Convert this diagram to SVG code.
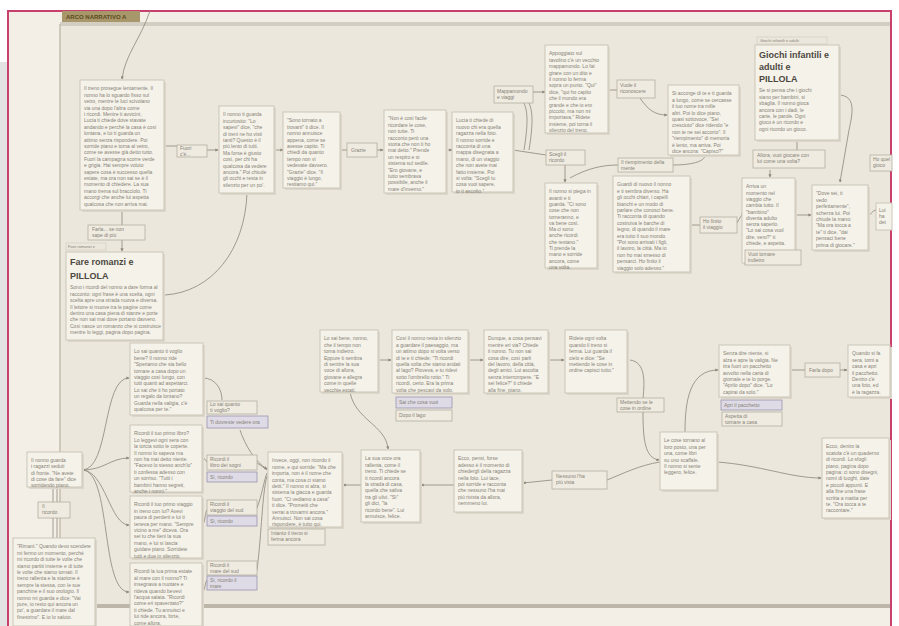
<svg xmlns="http://www.w3.org/2000/svg" width="899" height="626" viewBox="0 0 899 626">
<defs>
<style>
.n{fill:#f5f2ea;stroke:#cbc6b8;stroke-width:1}
.sh{fill:#dcd7ca}
.lb{fill:#efebe1;stroke:#b5b0a1;stroke-width:0.8}
.pl{fill:#dedbe7;stroke:#9a95b0;stroke-width:0.8}
.hd{fill:#ebe7dc;stroke:#cfcabc;stroke-width:0.6}
.t{font-family:"Liberation Sans",Arial,sans-serif;font-size:5px;fill:#878276}
.h{font-family:"Liberation Sans",Arial,sans-serif;font-size:9px;font-weight:bold;fill:#4c483f}
.c{fill:none;stroke:#8d8778;stroke-width:0.8}
</style>
<marker id="a" viewBox="0 0 6 6" refX="5" refY="3" markerWidth="4" markerHeight="4" orient="auto"><path d="M0,0 L6,3 L0,6 z" fill="#8d8778"/></marker>
</defs>
<rect width="899" height="626" fill="#ffffff"/>
<rect x="0" y="62" width="8" height="564" fill="#e3e3e3"/>
<rect x="8" y="11" width="883" height="615" fill="#f3efe7"/>
<rect x="60" y="24" width="831" height="583" fill="#ebe7dd"/>
<rect x="60" y="22" width="831" height="4" fill="#d3cec1"/>
<rect x="60" y="604" width="831" height="4" fill="#bdb7a9"/>
<line x1="60" y1="24" x2="60" y2="606" stroke="#c4beaf" stroke-width="1.5"/>
<path d="M8,626 L8,11 L891,11 L891,626" fill="none" stroke="#c8416e" stroke-width="2"/>
<g id="title"><rect x="62" y="11" width="78" height="11" fill="#a8976a"/><text x="66" y="19" font-family="Liberation Sans,Arial,sans-serif" font-size="6" font-weight="bold" fill="#5a4a20">ARCO NARRATIVO A</text></g>

<g id="connectors">
<path class="c" d="M150,11 C140,40 125,55 122,79" marker-end="url(#a)"/>
<path class="c" d="M164,146 L177,146"/>
<path class="c" d="M207,150 L218,150" marker-end="url(#a)"/>
<path class="c" d="M274,150 L283,150" marker-end="url(#a)"/>
<path class="c" d="M340,150 L347,150"/>
<path class="c" d="M377,150 L383,150" marker-end="url(#a)"/>
<path class="c" d="M446,150 L452,150" marker-end="url(#a)"/>
<path class="c" d="M513,150 L546,155"/>
<path class="c" d="M524,150 C528,125 528,112 524,103"/>
<path class="c" d="M529,150 C533,125 533,112 529,103"/>
<path class="c" d="M533,92 L545,92" marker-end="url(#a)"/>
<path class="c" d="M565,165 L565,182" marker-end="url(#a)"/>
<path class="c" d="M570,178 C588,168 603,165 618,165"/>
<path class="c" d="M608,90 L617,90"/>
<path class="c" d="M640,98 C648,110 655,115 667,115" marker-end="url(#a)"/>
<path class="c" d="M705,155 C705,162 690,165 673,165"/>
<path class="c" d="M690,225 L700,225"/>
<path class="c" d="M737,223 C740,218 741,215 744,213" marker-end="url(#a)"/>
<path class="c" d="M795,215 L811,215" marker-end="url(#a)"/>
<path class="c" d="M838,95 C856,95 853,112 849,130 L840,182" marker-end="url(#a)"/>
<path class="c" d="M797,140 L797,150"/>
<path class="c" d="M770,170 L770,177" marker-end="url(#a)"/>
<path class="c" d="M868,215 C872,215 872,210 876,210"/>
<path class="c" d="M122,210 L122,225"/>
<path class="c" d="M122,240 L122,251" marker-end="url(#a)"/>
<path class="c" d="M247,193 C245,250 212,292 165,295"/>
<path class="c" d="M82,470 C110,470 102,378 129,378" marker-end="url(#a)"/>
<path class="c" d="M82,470 C105,470 110,458 129,458" marker-end="url(#a)"/>
<path class="c" d="M82,470 C105,470 110,525 129,525" marker-end="url(#a)"/>
<path class="c" d="M82,470 C112,470 100,592 129,592" marker-end="url(#a)"/>
<path class="c" d="M53,487 L53,502 M57,487 L57,502 M53,518 L53,538 M57,518 L57,538"/>
<path class="c" d="M203,378 C216,378 222,390 222,400"/>
<path class="c" d="M240,430 C245,445 255,462 267,469" marker-end="url(#a)"/>
<path class="c" d="M202,458 C205,458 205,460 207,462"/>
<path class="c" d="M257,463 C262,466 264,468 267,470"/>
<path class="c" d="M202,525 C205,525 205,512 207,510"/>
<path class="c" d="M257,508 C262,495 264,480 267,473"/>
<path class="c" d="M202,592 C205,592 205,582 207,580"/>
<path class="c" d="M257,570 C262,530 262,495 267,476"/>
<path class="c" d="M350,392 C355,420 386,425 388,449" marker-end="url(#a)"/>
<path class="c" d="M378,360 L391,360" marker-end="url(#a)"/>
<path class="c" d="M468,360 L483,360" marker-end="url(#a)"/>
<path class="c" d="M548,360 L564,360" marker-end="url(#a)"/>
<path class="c" d="M361,485 L343,485" marker-end="url(#a)"/>
<path class="c" d="M454,485 L421,485" marker-end="url(#a)"/>
<path class="c" d="M552,480 L523,483" marker-end="url(#a)"/>
<path class="c" d="M660,462 C640,465 622,474 607,480"/>
<path class="c" d="M630,360 C645,362 645,380 643,398"/>
<path class="c" d="M643,412 C643,440 645,458 659,460" marker-end="url(#a)"/>
<path class="c" d="M685,432 C685,400 690,370 718,370" marker-end="url(#a)"/>
<path class="c" d="M717,462 C760,465 790,478 821,478" marker-end="url(#a)"/>
<path class="c" d="M790,370 L805,370"/>
<path class="c" d="M840,370 L847,370" marker-end="url(#a)"/>
</g>

<g id="nA"><rect class="sh" x="82" y="82" width="84" height="130"/><rect class="n" x="80" y="80" width="84" height="130"/>
<text class="t" x="84" y="84"><tspan x="84" dy="6.4">Il treno prosegue lentamente. Il</tspan><tspan x="84" dy="6.4">nonno ha lo sguardo fisso sul</tspan><tspan x="84" dy="6.4">vetro, mentre le luci scivolano</tspan><tspan x="84" dy="6.4">via una dopo l'altra come</tspan><tspan x="84" dy="6.4">i ricordi. Mentre ti avvicini,</tspan><tspan x="84" dy="6.4">Lucia ti chiede dove stavate</tspan><tspan x="84" dy="6.4">andando e perché la casa è così</tspan><tspan x="84" dy="6.4">lontana, e lui ti guarda un</tspan><tspan x="84" dy="6.4">attimo senza rispondere. Poi</tspan><tspan x="84" dy="6.4">sorride piano e torna al vetro,</tspan><tspan x="84" dy="6.4">come se avesse già detto tutto.</tspan><tspan x="84" dy="6.4">Fuori la campagna scorre verde</tspan><tspan x="84" dy="6.4">e grigia. Hai sempre voluto</tspan><tspan x="84" dy="6.4">sapere cosa è successo quella</tspan><tspan x="84" dy="6.4">estate, ma ora non sai se è il</tspan><tspan x="84" dy="6.4">momento di chiedere. La sua</tspan><tspan x="84" dy="6.4">mano trema sul bracciolo. Ti</tspan><tspan x="84" dy="6.4">accorgi che anche lui aspetta</tspan><tspan x="84" dy="6.4">qualcosa che non arriva mai.</tspan></text></g>

<g id="lFuori"><rect class="lb" x="177" y="145" width="30" height="12"/><text class="t" x="180" y="150">Fuori</text><text class="t" x="180" y="155.5">c'è...</text></g>

<g id="nB"><rect class="sh" x="221" y="108" width="55" height="87"/><rect class="n" x="219" y="106" width="55" height="87"/>
<text class="t" x="223" y="110"><tspan x="223" dy="6.4">Il nonno ti guarda</tspan><tspan x="223" dy="6.4">incuriosito: "Lo</tspan><tspan x="223" dy="6.4">sapevi" dice, "che</tspan><tspan x="223" dy="6.4">di treni ne ho visti</tspan><tspan x="223" dy="6.4">tanti? Questo è il</tspan><tspan x="223" dy="6.4">più lento di tutti.</tspan><tspan x="223" dy="6.4">Ma forse è giusto</tspan><tspan x="223" dy="6.4">così, per chi ha</tspan><tspan x="223" dy="6.4">qualcosa da vedere</tspan><tspan x="223" dy="6.4">ancora." Poi chiude</tspan><tspan x="223" dy="6.4">gli occhi e resta in</tspan><tspan x="223" dy="6.4">silenzio per un po'.</tspan></text></g>

<g id="nC"><rect class="sh" x="285" y="114" width="57" height="76"/><rect class="n" x="283" y="112" width="57" height="76"/>
<text class="t" x="287" y="116"><tspan x="287" dy="6.4">"Sono tornato a</tspan><tspan x="287" dy="6.4">trovarti" ti dice. Il</tspan><tspan x="287" dy="6.4">nonno annuisce</tspan><tspan x="287" dy="6.4">appena, come se</tspan><tspan x="287" dy="6.4">avesse capito. Ti</tspan><tspan x="287" dy="6.4">chiedi da quanto</tspan><tspan x="287" dy="6.4">tempo non vi</tspan><tspan x="287" dy="6.4">vedevate davvero.</tspan><tspan x="287" dy="6.4">"Grazie" dice. "Il</tspan><tspan x="287" dy="6.4">viaggio è lungo,</tspan><tspan x="287" dy="6.4">restiamo qui."</tspan></text></g>

<g id="lGrazie"><rect class="lb" x="347" y="143" width="30" height="14"/><text class="t" x="351" y="151.5">Grazie</text></g>

<g id="nD"><rect class="sh" x="386" y="112" width="62" height="83"/><rect class="n" x="384" y="110" width="62" height="83"/>
<text class="t" x="388" y="114"><tspan x="388" dy="6.4">"Non è così facile</tspan><tspan x="388" dy="6.4">ricordare le cose,</tspan><tspan x="388" dy="6.4">non tutte. Ti</tspan><tspan x="388" dy="6.4">racconto però una</tspan><tspan x="388" dy="6.4">storia che non ti ho</tspan><tspan x="388" dy="6.4">mai detto." Prende</tspan><tspan x="388" dy="6.4">un respiro e si</tspan><tspan x="388" dy="6.4">sistema sul sedile.</tspan><tspan x="388" dy="6.4">"Ero giovane, e</tspan><tspan x="388" dy="6.4">tutto sembrava</tspan><tspan x="388" dy="6.4">possibile, anche il</tspan><tspan x="388" dy="6.4">mare d'inverno."</tspan></text></g>

<g id="nE"><rect class="sh" x="454" y="114" width="61" height="80"/><rect class="n" x="452" y="112" width="61" height="80"/>
<text class="t" x="456" y="116"><tspan x="456" dy="6.4">Lucia ti chiede di</tspan><tspan x="456" dy="6.4">nuovo chi era quella</tspan><tspan x="456" dy="6.4">ragazza nella foto.</tspan><tspan x="456" dy="6.4">Il nonno sorride e</tspan><tspan x="456" dy="6.4">racconta di una</tspan><tspan x="456" dy="6.4">mappa disegnata a</tspan><tspan x="456" dy="6.4">mano, di un viaggio</tspan><tspan x="456" dy="6.4">che non avete mai</tspan><tspan x="456" dy="6.4">fatto insieme. Poi</tspan><tspan x="456" dy="6.4">si volta: "Scegli tu</tspan><tspan x="456" dy="6.4">cosa vuoi sapere,</tspan><tspan x="456" dy="6.4">io ti ascolto."</tspan></text></g>

<g id="lMappa"><rect class="lb" x="494" y="86" width="39" height="17"/><text class="t" x="497" y="93">Mappamondo</text><text class="t" x="497" y="99">e viaggi</text></g>

<g id="nF"><rect class="sh" x="547" y="47" width="63" height="88"/><rect class="n" x="545" y="45" width="63" height="88"/>
<text class="t" x="549" y="49"><tspan x="549" dy="6.4">Appoggiato sul</tspan><tspan x="549" dy="6.4">tavolino c'è un vecchio</tspan><tspan x="549" dy="6.4">mappamondo. Lo fai</tspan><tspan x="549" dy="6.4">girare con un dito e</tspan><tspan x="549" dy="6.4">il nonno lo ferma</tspan><tspan x="549" dy="6.4">sopra un punto. "Qui"</tspan><tspan x="549" dy="6.4">dice, "qui ho capito</tspan><tspan x="549" dy="6.4">che il mondo era</tspan><tspan x="549" dy="6.4">grande e che io ero</tspan><tspan x="549" dy="6.4">piccolo, ma non mi</tspan><tspan x="549" dy="6.4">importava." Ridete</tspan><tspan x="549" dy="6.4">insieme, poi torna il</tspan><tspan x="549" dy="6.4">silenzio del treno.</tspan></text></g>

<g id="lScegli"><rect class="lb" x="546" y="150" width="39" height="15"/><text class="t" x="549" y="156">Scegli il</text><text class="t" x="549" y="162">ricordo</text></g>

<g id="nG"><rect class="sh" x="547" y="185" width="52" height="85"/><rect class="n" x="545" y="183" width="52" height="85"/>
<text class="t" x="549" y="187"><tspan x="549" dy="6.3">Il nonno si piega in</tspan><tspan x="549" dy="6.3">avanti e ti</tspan><tspan x="549" dy="6.3">guarda. "Ci sono</tspan><tspan x="549" dy="6.3">cose che non</tspan><tspan x="549" dy="6.3">torneranno, e</tspan><tspan x="549" dy="6.3">va bene così.</tspan><tspan x="549" dy="6.3">Ma ci sono</tspan><tspan x="549" dy="6.3">anche ricordi</tspan><tspan x="549" dy="6.3">che restano."</tspan><tspan x="549" dy="6.3">Ti prende la</tspan><tspan x="549" dy="6.3">mano e sorride</tspan><tspan x="549" dy="6.3">ancora, come</tspan><tspan x="549" dy="6.3">una volta.</tspan></text></g>

<g id="lVuole"><rect class="lb" x="617" y="80" width="38" height="18"/><text class="t" x="620" y="87">Vuole il</text><text class="t" x="620" y="93">riconoscere</text></g>

<g id="nH"><rect class="sh" x="670" y="87" width="71" height="70"/><rect class="n" x="668" y="85" width="71" height="70"/>
<text class="t" x="672" y="89"><tspan x="672" dy="6.4">Si accorge di te e ti guarda</tspan><tspan x="672" dy="6.4">a lungo, come se cercasse</tspan><tspan x="672" dy="6.4">il tuo nome tra mille</tspan><tspan x="672" dy="6.4">altri. Poi lo dice piano,</tspan><tspan x="672" dy="6.4">quasi sottovoce. "Sei</tspan><tspan x="672" dy="6.4">cresciuto" dice ridendo "e</tspan><tspan x="672" dy="6.4">non te ne sei accorto". Il</tspan><tspan x="672" dy="6.4">"riempimento" di memoria</tspan><tspan x="672" dy="6.4">è lento, ma arriva. Poi</tspan><tspan x="672" dy="6.4">dice ancora: "Capisci?"</tspan></text></g>

<g id="lRiemp"><rect class="lb" x="618" y="158" width="55" height="14"/><text class="t" x="621" y="164">Il riempimento della</text><text class="t" x="621" y="170">mente</text></g>

<g id="nI"><rect class="sh" x="615" y="178" width="77" height="96"/><rect class="n" x="613" y="176" width="77" height="96"/>
<text class="t" x="617" y="180"><tspan x="617" dy="6.4">Guardi di nuovo il nonno</tspan><tspan x="617" dy="6.4">e ti sembra diverso. Ha</tspan><tspan x="617" dy="6.4">gli occhi chiari, i capelli</tspan><tspan x="617" dy="6.4">bianchi e un modo di</tspan><tspan x="617" dy="6.4">parlare che conosci bene.</tspan><tspan x="617" dy="6.4">Ti racconta di quando</tspan><tspan x="617" dy="6.4">costruiva le barche di</tspan><tspan x="617" dy="6.4">legno, di quando il mare</tspan><tspan x="617" dy="6.4">era tutto il suo mondo.</tspan><tspan x="617" dy="6.4">"Poi sono arrivati i figli,</tspan><tspan x="617" dy="6.4">il lavoro, la città. Ma io</tspan><tspan x="617" dy="6.4">non ho mai smesso di</tspan><tspan x="617" dy="6.4">pensarci. Ho finito il</tspan><tspan x="617" dy="6.4">viaggio solo adesso."</tspan></text></g>

<g id="lFinito"><rect class="lb" x="700" y="217" width="37" height="16"/><text class="t" x="703" y="223">Ho finito</text><text class="t" x="703" y="229">il viaggio</text></g>

<g id="nJ"><rect class="sh" x="744" y="180" width="53" height="85"/><rect class="n" x="742" y="178" width="53" height="85"/>
<text class="t" x="746" y="182"><tspan x="746" dy="6.3">Arriva un</tspan><tspan x="746" dy="6.3">momento nel</tspan><tspan x="746" dy="6.3">viaggio che</tspan><tspan x="746" dy="6.3">cambia tutto. Il</tspan><tspan x="746" dy="6.3">"bambino"</tspan><tspan x="746" dy="6.3">diventa adulto</tspan><tspan x="746" dy="6.3">senza saperlo.</tspan><tspan x="746" dy="6.3">"Lo sai cosa vuol</tspan><tspan x="746" dy="6.3">dire, vero?" ti</tspan><tspan x="746" dy="6.3">chiede, e aspetta.</tspan></text>
<rect class="lb" x="745" y="250" width="56" height="15"/><text class="t" x="748" y="256">Vuoi tornare</text><text class="t" x="748" y="262">indietro</text></g>

<g id="nGiochi"><rect class="hd" x="757" y="37" width="70" height="7"/><text class="t" x="760" y="42" style="font-size:4px">Giochi infantili e adulti</text>
<rect class="sh" x="757" y="47" width="84" height="95"/><rect class="n" x="755" y="45" width="84" height="95"/>
<text class="h" x="759" y="58">Giochi infantili e</text><text class="h" x="759" y="70">adulti e</text><text class="h" x="759" y="82">PILLOLA</text>
<text class="t" x="759" y="86"><tspan x="759" dy="6.4">Se si pensa che i giochi</tspan><tspan x="759" dy="6.4">siano per bambini, si</tspan><tspan x="759" dy="6.4">sbaglia. Il nonno gioca</tspan><tspan x="759" dy="6.4">ancora con i dadi, le</tspan><tspan x="759" dy="6.4">carte, le parole. Ogni</tspan><tspan x="759" dy="6.4">gioco è un ricordo e</tspan><tspan x="759" dy="6.4">ogni ricordo un gioco.</tspan></text></g>

<g id="lAllora"><rect class="lb" x="753" y="150" width="72" height="18"/><text class="t" x="757" y="157">Allora, vuoi giocare con</text><text class="t" x="757" y="163">lui come una volta?</text></g>

<g id="nK"><rect class="sh" x="814" y="187" width="56" height="65"/><rect class="n" x="812" y="185" width="56" height="65"/>
<text class="t" x="816" y="189"><tspan x="816" dy="6.4">"Dove sei, ti</tspan><tspan x="816" dy="6.4">vedo</tspan><tspan x="816" dy="6.4">perfettamente",</tspan><tspan x="816" dy="6.4">scherza lui. Poi</tspan><tspan x="816" dy="6.4">chiude la mano:</tspan><tspan x="816" dy="6.4">"Ma ora tocca a</tspan><tspan x="816" dy="6.4">te" ti dice, "dai</tspan><tspan x="816" dy="6.4">pensaci bene</tspan><tspan x="816" dy="6.4">prima di giocare."</tspan></text></g>

<g id="lEdge1"><rect class="lb" x="870" y="155" width="22" height="16"/><text class="t" x="873" y="161">Ho quel</text><text class="t" x="873" y="167">gioco</text></g>
<g id="nEdge2"><rect class="n" x="876" y="203" width="16" height="27"/><text class="t" x="879" y="212">Lui</text><text class="t" x="879" y="218">ha</text><text class="t" x="879" y="224">det</text></g>

<g id="lFarla"><rect class="lb" x="88" y="225" width="57" height="15"/><text class="t" x="92" y="231">Farla... se non</text><text class="t" x="92" y="237">sape di più</text></g>

<g id="nFare"><rect class="hd" x="66" y="243" width="40" height="7"/><text class="t" x="68" y="248" style="font-size:4px">Fare romanzi e</text>
<rect class="sh" x="68" y="254" width="97" height="88"/><rect class="n" x="66" y="252" width="97" height="88"/>
<text class="h" x="70" y="265">Fare romanzi e</text><text class="h" x="70" y="279">PILLOLA</text>
<text class="t" x="70" y="283"><tspan x="70" dy="6.4">Sono i ricordi del nonno a dare forma al</tspan><tspan x="70" dy="6.4">racconto: ogni frase è una scelta, ogni</tspan><tspan x="70" dy="6.4">scelta apre una strada nuova e diversa.</tspan><tspan x="70" dy="6.4">Il lettore si muove tra le pagine come</tspan><tspan x="70" dy="6.4">dentro una casa piena di stanze e porte</tspan><tspan x="70" dy="6.4">che non sai mai dove portano davvero.</tspan><tspan x="70" dy="6.4">Così nasce un romanzo che si costruisce</tspan><tspan x="70" dy="6.4">mentre lo leggi, pagina dopo pagina.</tspan></text></g>

<g id="nL"><rect class="sh" x="132" y="345" width="73" height="72"/><rect class="n" x="130" y="343" width="73" height="72"/>
<text class="t" x="134" y="347"><tspan x="134" dy="6.4">Lo sai quanto ti voglio</tspan><tspan x="134" dy="6.4">bene? Il nonno ride</tspan><tspan x="134" dy="6.4">"Speriamo che sia bello</tspan><tspan x="134" dy="6.4">tornare a casa dopo un</tspan><tspan x="134" dy="6.4">viaggio così lungo, con</tspan><tspan x="134" dy="6.4">tutti quanti ad aspettarci.</tspan><tspan x="134" dy="6.4">Lo sai che ti ho portato</tspan><tspan x="134" dy="6.4">un regalo da lontano?</tspan><tspan x="134" dy="6.4">Guarda nella valigia, c'è</tspan><tspan x="134" dy="6.4">qualcosa per te."</tspan></text></g>

<g id="nM"><rect class="sh" x="132" y="427" width="72" height="67"/><rect class="n" x="130" y="425" width="72" height="67"/>
<text class="t" x="134" y="429"><tspan x="134" dy="6.4">Ricordi il tuo primo libro?</tspan><tspan x="134" dy="6.4">Lo leggevi ogni sera con</tspan><tspan x="134" dy="6.4">la torcia sotto le coperte.</tspan><tspan x="134" dy="6.4">Il nonno lo sapeva ma</tspan><tspan x="134" dy="6.4">non ha mai detto niente.</tspan><tspan x="134" dy="6.4">"Facevo lo stesso anch'io"</tspan><tspan x="134" dy="6.4">ti confessa adesso con</tspan><tspan x="134" dy="6.4">un sorriso. "Tutti i</tspan><tspan x="134" dy="6.4">bambini hanno segreti,</tspan><tspan x="134" dy="6.4">anche i nonni."</tspan></text></g>

<g id="nN"><rect class="sh" x="132" y="498" width="72" height="62"/><rect class="n" x="130" y="496" width="72" height="62"/>
<text class="t" x="134" y="500"><tspan x="134" dy="6.4">Ricordi il tuo primo viaggio</tspan><tspan x="134" dy="6.4">in treno con lui? Avevi</tspan><tspan x="134" dy="6.4">paura di perderti e lui ti</tspan><tspan x="134" dy="6.4">teneva per mano. "Sempre</tspan><tspan x="134" dy="6.4">vicino a me" diceva. Ora</tspan><tspan x="134" dy="6.4">sei tu che tieni la sua</tspan><tspan x="134" dy="6.4">mano, e lui si lascia</tspan><tspan x="134" dy="6.4">guidare piano. Sorridete</tspan><tspan x="134" dy="6.4">tutti e due in silenzio.</tspan></text></g>

<g id="nO"><rect class="sh" x="132" y="565" width="72" height="63"/><rect class="n" x="130" y="563" width="72" height="63"/>
<text class="t" x="134" y="567"><tspan x="134" dy="6.4">Ricordi la tua prima estate</tspan><tspan x="134" dy="6.4">al mare con il nonno? Ti</tspan><tspan x="134" dy="6.4">insegnava a nuotare e</tspan><tspan x="134" dy="6.4">rideva quando bevevi</tspan><tspan x="134" dy="6.4">l'acqua salata. "Ricordi</tspan><tspan x="134" dy="6.4">come eri spaventato?"</tspan><tspan x="134" dy="6.4">ti chiede. Tu annuisci e</tspan><tspan x="134" dy="6.4">lui ride ancora, forte,</tspan><tspan x="134" dy="6.4">come allora.</tspan></text></g>

<g id="nP"><rect class="sh" x="29" y="454" width="55" height="35"/><rect class="n" x="27" y="452" width="55" height="35"/>
<text class="t" x="31" y="456"><tspan x="31" dy="6.2">Il nonno guarda</tspan><tspan x="31" dy="6.2">i ragazzi seduti</tspan><tspan x="31" dy="6.2">di fronte. "Ne avete</tspan><tspan x="31" dy="6.2">di cose da fare" dice</tspan><tspan x="31" dy="6.2">sorridendo piano.</tspan></text></g>

<g id="lIl"><rect class="lb" x="38" y="502" width="32" height="16"/><text class="t" x="42" y="508">Il</text><text class="t" x="42" y="514">ricordo</text></g>

<g id="nQ"><rect class="sh" x="15" y="540" width="82" height="86"/><rect class="n" x="13" y="538" width="82" height="88"/>
<text class="t" x="17" y="542"><tspan x="17" dy="6.4">"Rimani." Quando devo scendere</tspan><tspan x="17" dy="6.4">mi fermo un momento, perché</tspan><tspan x="17" dy="6.4">mi ricordo di tutte le volte che</tspan><tspan x="17" dy="6.4">siamo partiti insieme e di tutte</tspan><tspan x="17" dy="6.4">le volte che siamo tornati. Il</tspan><tspan x="17" dy="6.4">treno rallenta e la stazione è</tspan><tspan x="17" dy="6.4">sempre la stessa, con le sue</tspan><tspan x="17" dy="6.4">panchine e il suo orologio. Il</tspan><tspan x="17" dy="6.4">nonno mi guarda e dice: "Vai</tspan><tspan x="17" dy="6.4">pure, io resto qui ancora un</tspan><tspan x="17" dy="6.4">po', a guardare il mare dal</tspan><tspan x="17" dy="6.4">finestrino". E io lo saluto.</tspan></text></g>

<g id="lL1"><rect class="lb" x="207" y="401" width="50" height="13"/><text class="t" x="210" y="406">Lo sai quanto</text><text class="t" x="210" y="412">ti voglio?</text></g>
<g id="lL2"><rect class="pl" x="207" y="416" width="61" height="12"/><text class="t" x="210" y="424">Ti dovreste vedere ora</text></g>
<g id="lM1"><rect class="lb" x="207" y="455" width="50" height="15"/><text class="t" x="210" y="461">Ricordi il</text><text class="t" x="210" y="467">libro dei sogni</text></g>
<g id="lM2"><rect class="pl" x="207" y="472" width="50" height="10"/><text class="t" x="210" y="479">Sì, ricordo</text></g>
<g id="lN1"><rect class="lb" x="207" y="500" width="50" height="15"/><text class="t" x="210" y="506">Ricordi il</text><text class="t" x="210" y="512">viaggio del sud</text></g>
<g id="lN2"><rect class="pl" x="207" y="516" width="50" height="10"/><text class="t" x="210" y="523">Sì, ricordo</text></g>
<g id="lO1"><rect class="lb" x="207" y="561" width="50" height="14"/><text class="t" x="210" y="567">Ricordi il</text><text class="t" x="210" y="573">mare del sud</text></g>
<g id="lO2"><rect class="pl" x="207" y="576" width="50" height="14"/><text class="t" x="210" y="582">Sì, ricordo il</text><text class="t" x="210" y="588">mare</text></g>

<g id="nR"><rect class="sh" x="270" y="454" width="74" height="75"/><rect class="n" x="268" y="452" width="74" height="75"/>
<text class="t" x="272" y="456"><tspan x="272" dy="6.4">Invece, oggi, non ricordo il</tspan><tspan x="272" dy="6.4">nome, e qui sorride: "Ma che</tspan><tspan x="272" dy="6.4">importa, non è il nome che</tspan><tspan x="272" dy="6.4">conta, ma cosa ci siamo</tspan><tspan x="272" dy="6.4">detti." Il nonno si alza, si</tspan><tspan x="272" dy="6.4">sistema la giacca e guarda</tspan><tspan x="272" dy="6.4">fuori. "Ci vediamo a casa"</tspan><tspan x="272" dy="6.4">ti dice. "Prometti che</tspan><tspan x="272" dy="6.4">verrai a trovarmi ancora."</tspan><tspan x="272" dy="6.4">Annuisci. Non sai cosa</tspan><tspan x="272" dy="6.4">rispondere, è tutto qui.</tspan></text>
<rect class="lb" x="268" y="529" width="57" height="16"/><text class="t" x="271" y="535">Intanto il treno si</text><text class="t" x="271" y="541">ferma ancora</text></g>

<g id="nS"><rect class="sh" x="322" y="332" width="58" height="62"/><rect class="n" x="320" y="330" width="58" height="62"/>
<text class="t" x="324" y="334"><tspan x="324" dy="6.4">Lo sai bene, nonno,</tspan><tspan x="324" dy="6.4">che il tempo non</tspan><tspan x="324" dy="6.4">torna indietro.</tspan><tspan x="324" dy="6.4">Eppure ti sembra</tspan><tspan x="324" dy="6.4">di sentire la sua</tspan><tspan x="324" dy="6.4">voce di allora,</tspan><tspan x="324" dy="6.4">giovane e allegra</tspan><tspan x="324" dy="6.4">come in quelle</tspan><tspan x="324" dy="6.4">vecchie estati.</tspan></text></g>

<g id="nT"><rect class="sh" x="394" y="332" width="76" height="63"/><rect class="n" x="392" y="330" width="76" height="63"/>
<text class="t" x="396" y="334"><tspan x="396" dy="6.4">Così il nonno resta in silenzio</tspan><tspan x="396" dy="6.4">a guardare il paesaggio, ma</tspan><tspan x="396" dy="6.4">un attimo dopo si volta verso</tspan><tspan x="396" dy="6.4">di te e ti chiede: "Ti ricordi</tspan><tspan x="396" dy="6.4">quella volta che siamo andati</tspan><tspan x="396" dy="6.4">al lago? Pioveva, e tu ridevi</tspan><tspan x="396" dy="6.4">sotto l'ombrello rotto." Ti</tspan><tspan x="396" dy="6.4">ricordi, certo. Era la prima</tspan><tspan x="396" dy="6.4">volta che pescavi da solo.</tspan></text>
<rect class="pl" x="396" y="397" width="56" height="11"/><text class="t" x="399" y="404">Sai che cosa vuoi</text>
<rect class="lb" x="396" y="410" width="56" height="11"/><text class="t" x="399" y="417">Dopo il lago</text></g>

<g id="nU"><rect class="sh" x="486" y="332" width="64" height="63"/><rect class="n" x="484" y="330" width="64" height="63"/>
<text class="t" x="488" y="334"><tspan x="488" dy="6.4">Dunque, a cosa pensavi</tspan><tspan x="488" dy="6.4">mentre eri via? Chiede</tspan><tspan x="488" dy="6.4">il nonno. Tu non sai</tspan><tspan x="488" dy="6.4">cosa dire, così parli</tspan><tspan x="488" dy="6.4">del lavoro, della città,</tspan><tspan x="488" dy="6.4">degli amici. Lui ascolta</tspan><tspan x="488" dy="6.4">senza interrompere. "E</tspan><tspan x="488" dy="6.4">sei felice?" ti chiede</tspan><tspan x="488" dy="6.4">alla fine, piano.</tspan></text></g>

<g id="nV"><rect class="sh" x="567" y="332" width="62" height="63"/><rect class="n" x="565" y="330" width="62" height="63"/>
<text class="t" x="569" y="334"><tspan x="569" dy="6.4">Ridete ogni volta</tspan><tspan x="569" dy="6.4">quando il treno si</tspan><tspan x="569" dy="6.4">ferma. Lui guarda il</tspan><tspan x="569" dy="6.4">cielo e dice: "Se</tspan><tspan x="569" dy="6.4">mettendo le cose in</tspan><tspan x="569" dy="6.4">ordine capisci tutto."</tspan></text></g>

<g id="nW"><rect class="sh" x="363" y="452" width="59" height="72"/><rect class="n" x="361" y="450" width="59" height="72"/>
<text class="t" x="365" y="454"><tspan x="365" dy="6.4">La sua voce ora</tspan><tspan x="365" dy="6.4">rallenta, come il</tspan><tspan x="365" dy="6.4">treno. Ti chiede se</tspan><tspan x="365" dy="6.4">ti ricordi ancora</tspan><tspan x="365" dy="6.4">la strada di casa,</tspan><tspan x="365" dy="6.4">quella che saliva</tspan><tspan x="365" dy="6.4">tra gli ulivi. "Sì"</tspan><tspan x="365" dy="6.4">gli dici, "la</tspan><tspan x="365" dy="6.4">ricordo bene". Lui</tspan><tspan x="365" dy="6.4">annuisce, felice.</tspan></text></g>

<g id="nX"><rect class="sh" x="456" y="452" width="68" height="62"/><rect class="n" x="454" y="450" width="68" height="62"/>
<text class="t" x="458" y="454"><tspan x="458" dy="6.4">Ecco, pensi, forse</tspan><tspan x="458" dy="6.4">adesso è il momento di</tspan><tspan x="458" dy="6.4">chiedergli della ragazza</tspan><tspan x="458" dy="6.4">nella foto. Lui tace,</tspan><tspan x="458" dy="6.4">poi sorride e racconta</tspan><tspan x="458" dy="6.4">che nessuno l'ha mai</tspan><tspan x="458" dy="6.4">più rivista da allora,</tspan><tspan x="458" dy="6.4">nemmeno lui.</tspan></text></g>

<g id="lNessuno"><rect class="lb" x="552" y="471" width="55" height="18"/><text class="t" x="556" y="478">Nessuno l'ha</text><text class="t" x="556" y="484">più vista</text></g>

<g id="lMettendo"><rect class="lb" x="617" y="398" width="47" height="14"/><text class="t" x="620" y="404">Mettendo se le</text><text class="t" x="620" y="410">cose in ordine</text></g>

<g id="nY"><rect class="sh" x="662" y="434" width="57" height="58"/><rect class="n" x="660" y="432" width="57" height="58"/>
<text class="t" x="664" y="436"><tspan x="664" dy="6.4">Le cose tornano al</tspan><tspan x="664" dy="6.4">loro posto, una per</tspan><tspan x="664" dy="6.4">una, come libri</tspan><tspan x="664" dy="6.4">su uno scaffale.</tspan><tspan x="664" dy="6.4">Il nonno si sente</tspan><tspan x="664" dy="6.4">leggero, felice.</tspan></text></g>

<g id="nZ"><rect class="sh" x="721" y="347" width="71" height="52"/><rect class="n" x="719" y="345" width="71" height="52"/>
<text class="t" x="723" y="349"><tspan x="723" dy="6.4">Senza dire niente, si</tspan><tspan x="723" dy="6.4">alza e apre la valigia. Ne</tspan><tspan x="723" dy="6.4">tira fuori un pacchetto</tspan><tspan x="723" dy="6.4">avvolto nella carta di</tspan><tspan x="723" dy="6.4">giornale e te lo porge.</tspan><tspan x="723" dy="6.4">"Aprilo dopo" dice. "Lo</tspan><tspan x="723" dy="6.4">capirai da solo."</tspan></text>
<rect class="pl" x="721" y="400" width="61" height="10"/><text class="t" x="724" y="407">Apri il pacchetto</text>
<rect class="lb" x="722" y="412" width="60" height="14"/><text class="t" x="725" y="418">Aspetta di</text><text class="t" x="725" y="424">tornare a casa</text></g>

<g id="lFarlaDopo"><rect class="lb" x="805" y="363" width="35" height="14"/><text class="t" x="809" y="372">Farla dopo</text></g>

<g id="nAA"><rect class="sh" x="850" y="347" width="42" height="52"/><rect class="n" x="848" y="345" width="42" height="52"/>
<text class="t" x="852" y="349"><tspan x="852" dy="6.4">Quando si fa</tspan><tspan x="852" dy="6.4">sera, torni a</tspan><tspan x="852" dy="6.4">casa e apri</tspan><tspan x="852" dy="6.4">il pacchetto.</tspan><tspan x="852" dy="6.4">Dentro c'è</tspan><tspan x="852" dy="6.4">una foto, ed</tspan><tspan x="852" dy="6.4">è la ragazza.</tspan></text></g>

<g id="nAB"><rect class="sh" x="824" y="440" width="67" height="80"/><rect class="n" x="822" y="438" width="67" height="80"/>
<text class="t" x="826" y="442"><tspan x="826" dy="6.4">Ecco, dentro la</tspan><tspan x="826" dy="6.4">scatola c'è un quaderno</tspan><tspan x="826" dy="6.4">di ricordi. Lo sfogli</tspan><tspan x="826" dy="6.4">piano, pagina dopo</tspan><tspan x="826" dy="6.4">pagina: ci sono disegni,</tspan><tspan x="826" dy="6.4">nomi di luoghi, date</tspan><tspan x="826" dy="6.4">e piccoli appunti. E</tspan><tspan x="826" dy="6.4">alla fine una frase</tspan><tspan x="826" dy="6.4">scritta a matita per</tspan><tspan x="826" dy="6.4">te. "Ora tocca a te</tspan><tspan x="826" dy="6.4">raccontare."</tspan></text></g>
</svg>
